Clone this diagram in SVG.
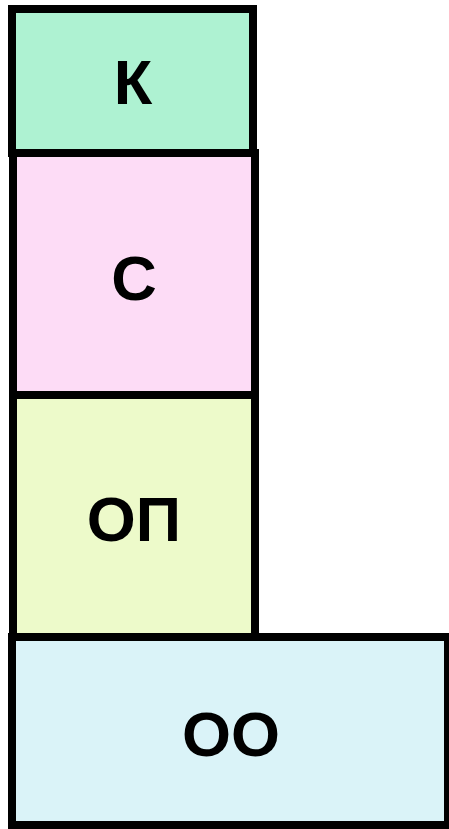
<svg xmlns="http://www.w3.org/2000/svg" width="449" height="829" viewBox="0 0 449 829">
<style>
.box{stroke:#000;stroke-width:8}
.lbl{font-family:"Liberation Sans",Arial,sans-serif;font-weight:bold;font-size:63px;text-anchor:middle;fill:#000}
</style>
<rect width="449" height="829" fill="#fff"/>
<g id="connectors"></g>
<g id="node-k"><rect class="box" x="12" y="9" width="241" height="144" fill="#AEF2D2"/><text class="lbl" x="133" y="104">К</text></g>
<g id="node-s"><rect class="box" x="13" y="153" width="242" height="242" fill="#FDDCF6"/><text class="lbl" x="134" y="300">С</text></g>
<g id="node-op"><rect class="box" x="13" y="395" width="242" height="242" fill="#EDFACA"/><text class="lbl" x="134" y="541">ОП</text></g>
<g id="node-oo"><rect class="box" x="12" y="637" width="436" height="188" fill="#DAF3F8"/><text class="lbl" x="231" y="756">ОО</text></g>
</svg>
